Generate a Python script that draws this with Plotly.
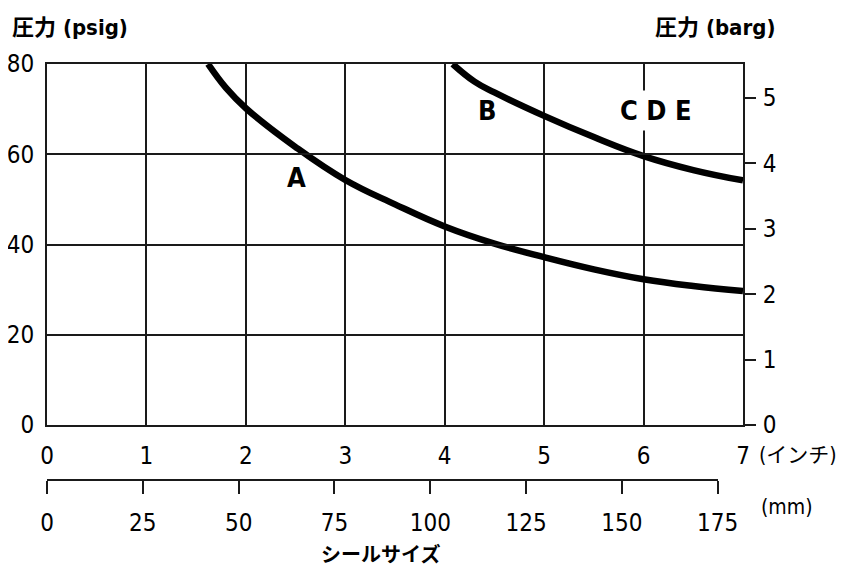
import plotly.graph_objects as go

# ---- data ----
inch_ticks = [0, 1, 2, 3, 4, 5, 6, 7]
mm_ticks = [0, 25, 50, 75, 100, 125, 150, 175]
psig_ticks = [0, 20, 40, 60, 80]
barg_ticks = [0, 1, 2, 3, 4, 5]

a_size = [1.62, 1.8, 2.0, 2.5, 3.0, 3.5, 4.0, 4.5, 5.0, 5.5, 6.0, 6.5, 7.0]
a_psig = [80, 74.7, 70.2, 61.6, 54.3, 48.9, 44.0, 40.2, 37.2, 34.5, 32.3, 30.8, 29.7]
b_size = [4.08, 4.3, 4.5, 5.0, 5.5, 6.0, 6.5, 7.0]
b_psig = [80, 76.1, 73.7, 68.5, 63.8, 59.6, 56.5, 54.2]

labels = ["A", "B", "C D E"]
label_x = [2.512, 4.43, 6.12]
label_y = [54.9, 69.7, 69.6]

PSI_TO_BAR = 0.0689476

NARROW = "DejaVu Sans Condensed, Liberation Sans Narrow, Roboto, Noto Sans CJK JP, sans-serif"
INK = "#1a1a1a"

fig = go.Figure()
fig.add_trace(go.Scatter(x=a_size, y=a_psig, mode="lines",
                         line=dict(color="black", width=6.5, shape="spline", smoothing=1.2),
                         showlegend=False, hoverinfo="skip"))
fig.add_trace(go.Scatter(x=b_size, y=b_psig, mode="lines",
                         line=dict(color="black", width=6.5, shape="spline", smoothing=1.2),
                         showlegend=False, hoverinfo="skip"))
# carrier traces for the secondary axes
fig.add_trace(go.Scatter(x=[0, 7], y=[None, None], yaxis="y2", mode="lines", showlegend=False, hoverinfo="skip"))
fig.add_trace(go.Scatter(x=[0, 175], y=[None, None], xaxis="x3", yaxis="y", mode="lines", showlegend=False, hoverinfo="skip"))

# page body has an 8px margin: work in window pixels, shift by OFF
OFF = 8
W, H = 846 - OFF, 569 - OFF
L, R, T, B = 47 - OFF, 743 - OFF, 64 - OFF, 549 - OFF
pw, ph = R - L, B - T
plot_bottom = 425 - OFF
ydom0 = (B - plot_bottom) / ph

def px(xp):
    return (xp - OFF - L) / pw

def py(yp):
    return (B - (yp - OFF)) / ph

for t, x, y in zip(labels, label_x, label_y):
    fig.add_annotation(x=x, y=y, xref="x", yref="y", text=f"<b>{t}</b>", showarrow=False,
                       font=dict(family=NARROW, size=27, color="black"),
                       bgcolor="white" if t == "C D E" else "rgba(0,0,0,0)", borderpad=4 if t == "C D E" else 0)

fig.add_annotation(x=px(10), y=py(27), xref="paper", yref="paper", xanchor="left", yanchor="middle",
                   text="<b>圧力 (psig)</b>", showarrow=False, font=dict(family=NARROW, size=22, color="black"))
fig.add_annotation(x=px(777), y=py(27), xref="paper", yref="paper", xanchor="right", yanchor="middle",
                   text="<b>圧力 (barg)</b>", showarrow=False, font=dict(family=NARROW, size=22, color="black"))
fig.add_annotation(x=px(757), y=py(455), xref="paper", yref="paper", xanchor="left", yanchor="middle",
                   text="(インチ)", showarrow=False, font=dict(family=NARROW, size=21, color="black"))
fig.add_annotation(x=px(759), y=py(507), xref="paper", yref="paper", xanchor="left", yanchor="middle",
                   text="(mm)", showarrow=False, font=dict(family=NARROW, size=21, color="black"))
fig.add_annotation(x=px(380), y=py(553), xref="paper", yref="paper", xanchor="center", yanchor="middle",
                   text="<b>シールサイズ</b>", showarrow=False, borderpad=0,
                   font=dict(family="Noto Sans CJK JP", size=20, color="black"))

tickfont = dict(family=NARROW, size=24, color="black")

fig.update_layout(
    width=W, height=H,
    margin=dict(l=L, r=W - R, t=T, b=H - B, autoexpand=False),
    paper_bgcolor="white", plot_bgcolor="rgba(0,0,0,0)",
    xaxis=dict(range=[0, 7], tickvals=inch_ticks, showgrid=True, gridcolor=INK, gridwidth=2,
               showline=True, linecolor=INK, linewidth=2, mirror=True, ticks="", automargin=False,
               tickfont=tickfont, zeroline=False, ticklabelstandoff=8, fixedrange=True),
    yaxis=dict(range=[0, 80], tickvals=psig_ticks, domain=[ydom0, 1], showgrid=True, gridcolor=INK, gridwidth=2,
               showline=True, linecolor=INK, linewidth=2, mirror=True, ticks="", automargin=False,
               tickfont=tickfont, zeroline=False, ticklabelstandoff=6, fixedrange=True),
    yaxis2=dict(range=[0, 80 * PSI_TO_BAR], tickvals=barg_ticks, overlaying="y", side="right",
                showgrid=False, showline=True, linecolor=INK, linewidth=2, ticks="outside", ticklen=11,
                tickwidth=2, tickcolor=INK, tickfont=tickfont, zeroline=False, ticklabelstandoff=2,
                automargin=False),
    xaxis3=dict(range=[0, 175], tickvals=mm_ticks, domain=[0, (717.7 - 47) / pw], anchor="free",
                position=py(480), showgrid=False, showline=True, linecolor=INK, linewidth=2,
                ticks="outside", ticklen=13, tickwidth=2, tickcolor=INK, tickfont=tickfont,
                zeroline=False, ticklabelstandoff=8, automargin=False),
)

fig.write_html("out.html")
